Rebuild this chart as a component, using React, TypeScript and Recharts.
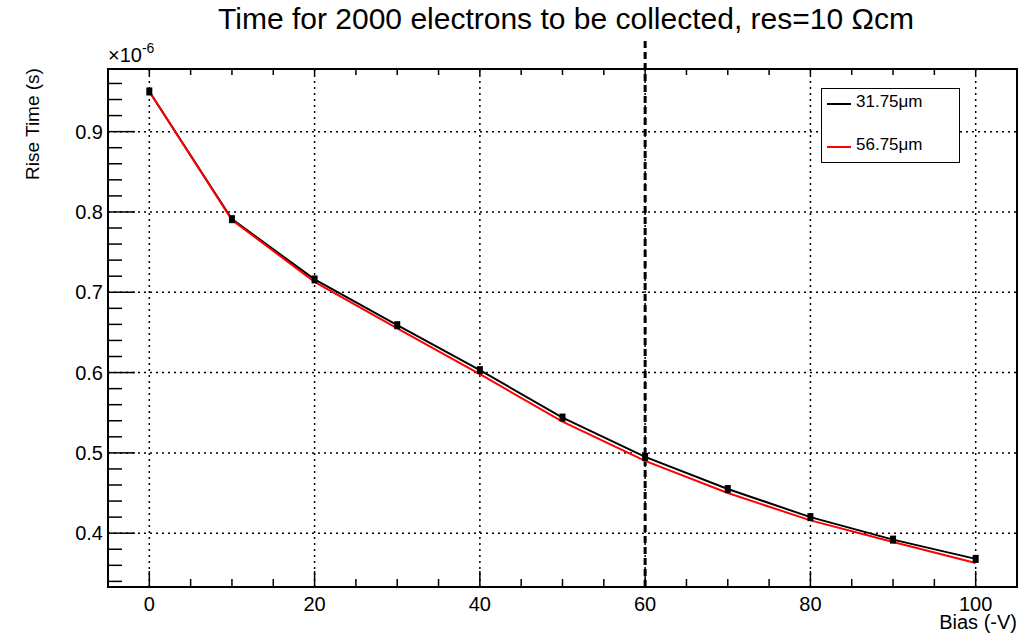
import { ComposedChart, Line, XAxis, YAxis, CartesianGrid, ReferenceLine, ReferenceArea } from 'recharts'

// Bias (-V) and rise time (x10^-6 s) for the two thicknesses
const bias = [0, 10, 20, 30, 40, 50, 60, 70, 80, 90, 100]
const rise3175 = [0.950, 0.791, 0.716, 0.659, 0.603, 0.544, 0.495, 0.455, 0.420, 0.392, 0.368]
const rise5675 = [0.950, 0.790, 0.713, 0.655, 0.598, 0.539, 0.490, 0.450, 0.416, 0.389, 0.363]

const xMajor = [0, 20, 40, 60, 80, 100]
const xMinor = [0, 5, 10, 15, 20, 25, 30, 35, 40, 45, 50, 55, 60, 65, 70, 75, 80, 85, 90, 95, 100]
const yMajor = [0.4, 0.5, 0.6, 0.7, 0.8, 0.9]
const yMinor = [0.34, 0.36, 0.38, 0.4, 0.42, 0.44, 0.46, 0.48, 0.5, 0.52, 0.54, 0.56, 0.58, 0.6, 0.62, 0.64, 0.66, 0.68, 0.7, 0.72, 0.74, 0.76, 0.78, 0.8, 0.82, 0.84, 0.86, 0.88, 0.9, 0.92, 0.94, 0.96]

const X_DOMAIN: [number, number] = [-5, 105]
const Y_DOMAIN: [number, number] = [0.333, 0.978]
const CUT_BIAS = 60

const data = bias.map((b, i) => ({ bias: b, thin: rise3175[i], thick: rise5675[i] }))

const FONT = '"Liberation Sans", Arial, Helvetica, sans-serif'
const isMajor = (list: number[], v: number) => list.some(m => Math.abs(m - v) < 1e-6)

const BottomTick = (p: any) => {
  const v = p.payload.value
  const major = isMajor(xMajor, v)
  return (
    <g>
      <line x1={p.x} x2={p.x} y1={p.y} y2={p.y - (major ? 16 : 8)} stroke="#000" strokeWidth={1.5} />
      {major && (
        <text x={p.x} y={p.y + 24} textAnchor="middle" fontSize={20} fill="#000">{v}</text>
      )}
    </g>
  )
}

const TopTick = (p: any) => (
  <line x1={p.x} x2={p.x} y1={p.y} y2={p.y + 6} stroke="#000" strokeWidth={1.5} />
)

const LeftTick = (p: any) => {
  const v = p.payload.value
  const major = isMajor(yMajor, v)
  return (
    <g>
      <line x1={p.x} x2={p.x + (major ? 27 : 14)} y1={p.y} y2={p.y} stroke="#000" strokeWidth={1.5} />
      {major && (
        <text x={p.x - 5} y={p.y + 7} textAnchor="end" fontSize={20} fill="#000">{v.toFixed(1)}</text>
      )}
    </g>
  )
}

const RightTick = (p: any) => {
  const major = isMajor(yMajor, p.payload.value)
  return <line x1={p.x} x2={p.x - (major ? 27 : 13)} y1={p.y} y2={p.y} stroke="#000" strokeWidth={1.5} />
}

const SquareDot = (props: any) => {
  const { cx, cy } = props
  if (cx == null || cy == null) return null
  return <rect x={cx - 3} y={cy - 4} width={6} height={8} fill="#000" />
}

export default function App() {
  return (
    <div style={{ position: 'relative', width: 1034, height: 634, fontFamily: FONT, background: '#fff' }}>
      <style>{`body{margin:0}`}</style>
      <div style={{ position: 'absolute', left: 0, top: 2, width: 1034, boxSizing: 'border-box', paddingLeft: 98,
        textAlign: 'center', fontSize: 30, whiteSpace: 'nowrap' }}>
        Time for 2000 electrons to be collected, res=10 Ωcm
      </div>
      <ComposedChart
        width={1034}
        height={634}
        data={data}
        margin={{ top: 68, right: 16, bottom: 7, left: 48 }}
        style={{ fontFamily: FONT }}
      >
        <CartesianGrid xAxisId="x" yAxisId="y" stroke="#000" strokeWidth={1.5} strokeDasharray="2 4"
          verticalValues={xMajor} horizontalValues={yMajor} />

        <XAxis xAxisId="x" orientation="bottom" height={40} type="number" dataKey="bias" domain={X_DOMAIN}
          ticks={xMinor} interval={0} tickSize={0} tickMargin={0} axisLine={false} tickLine={false}
          tick={<BottomTick />} />
        <XAxis xAxisId="xt" orientation="top" height={1} type="number" dataKey="bias" domain={X_DOMAIN}
          ticks={xMinor} interval={0} tickSize={0} tickMargin={0} axisLine={false} tickLine={false}
          tick={<TopTick />} />

        <YAxis yAxisId="y" orientation="left" width={60} type="number" domain={Y_DOMAIN}
          ticks={yMinor} interval={0} tickSize={0} tickMargin={0} axisLine={false} tickLine={false}
          tick={<LeftTick />} />
        <YAxis yAxisId="yr" orientation="right" width={1} type="number" domain={Y_DOMAIN}
          ticks={yMinor} interval={0} tickSize={0} tickMargin={0} axisLine={false} tickLine={false}
          tick={<RightTick />} />

        <ReferenceArea xAxisId="x" yAxisId="y" x1={X_DOMAIN[0]} x2={X_DOMAIN[1]} y1={Y_DOMAIN[0]} y2={Y_DOMAIN[1]}
          fill="none" fillOpacity={0} stroke="#000" strokeWidth={2} ifOverflow="visible" />

        <ReferenceLine xAxisId="x" yAxisId="y" ifOverflow="visible"
          segment={[{ x: CUT_BIAS, y: Y_DOMAIN[0] }, { x: CUT_BIAS, y: 1.014 }]}
          stroke="#000" strokeWidth={3} strokeDasharray="7 4" />

        <Line xAxisId="x" yAxisId="y" dataKey="thin" type="linear" stroke="#000" strokeWidth={2}
          dot={false} activeDot={false} isAnimationActive={false} />
        <Line xAxisId="x" yAxisId="y" dataKey="thick" type="linear" stroke="#ff0000" strokeWidth={2}
          dot={false} activeDot={false} isAnimationActive={false} />
        <Line xAxisId="x" yAxisId="y" dataKey="thin" type="linear" stroke="none"
          dot={<SquareDot />} activeDot={false} isAnimationActive={false} legendType="none" />
      </ComposedChart>

      <div style={{ position: 'absolute', left: 108, top: 44, fontSize: 20 }}>
        ×10<sup style={{ fontSize: 14, verticalAlign: 'top', position: 'relative', top: -4 }}>-6</sup>
      </div>
      <div style={{ position: 'absolute', left: 33, top: 124, fontSize: 19, whiteSpace: 'nowrap',
        transform: 'translate(-50%, -50%) rotate(-90deg)' }}>
        Rise Time (s)
      </div>
      <div style={{ position: 'absolute', right: 17, top: 612, fontSize: 20, lineHeight: '20px' }}>Bias (-V)</div>

      <div style={{ position: 'absolute', left: 821, top: 88, width: 137, height: 73, border: '1.5px solid #000', background: '#fff' }}>
        <div style={{ position: 'absolute', left: 5, top: 14, width: 24, height: 0, borderTop: '2px solid #000' }} />
        <div style={{ position: 'absolute', left: 34, top: 3, fontSize: 17 }}>31.75μm</div>
        <div style={{ position: 'absolute', left: 5, top: 57, width: 24, height: 0, borderTop: '2px solid #ff0000' }} />
        <div style={{ position: 'absolute', left: 34, top: 46, fontSize: 17 }}>56.75μm</div>
      </div>
    </div>
  )
}
